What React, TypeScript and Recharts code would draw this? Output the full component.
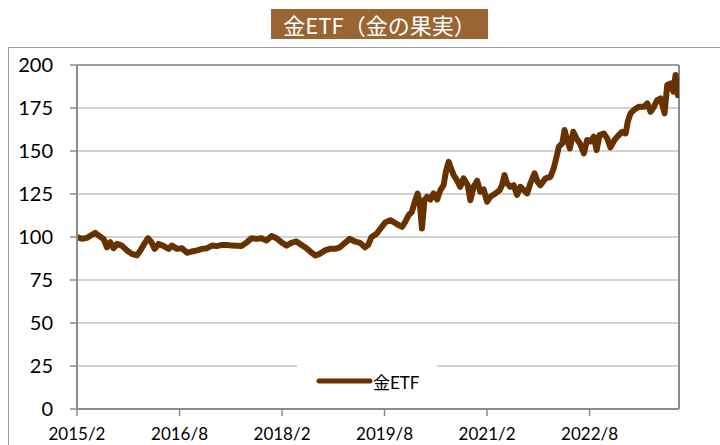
import React from "react";
import { LineChart, Line, XAxis, YAxis, CartesianGrid, ReferenceLine, Legend } from "recharts";

const dates = [
  "2015-02-01","2015-02-27","2015-03-23","2015-04-20","2015-05-07","2015-05-24","2015-06-21","2015-07-09","2015-07-26","2015-08-14",
  "2015-09-02","2015-09-27","2015-10-24","2015-11-20","2015-12-17","2016-01-05","2016-01-22","2016-02-15","2016-03-03","2016-03-20",
  "2016-04-11","2016-05-08","2016-06-04","2016-06-21","2016-07-18","2016-08-14","2016-09-11","2016-10-07","2016-11-04","2016-11-29",
  "2016-12-26","2017-01-22","2017-02-18","2017-03-15","2017-04-12","2017-05-08","2017-06-27","2017-07-23","2017-08-20","2017-09-16",
  "2017-10-13","2017-11-09","2017-12-06","2018-01-02","2018-01-27","2018-02-24","2018-03-20","2018-04-17","2018-05-14","2018-06-10",
  "2018-07-07","2018-07-27","2018-08-20","2018-09-17","2018-10-13","2018-11-10","2018-12-06","2019-01-03","2019-01-28","2019-02-24",
  "2019-03-21","2019-04-18","2019-05-05","2019-05-22","2019-06-19","2019-07-15","2019-08-05","2019-09-01","2019-09-27","2019-10-15",
  "2019-11-03","2019-11-20","2019-12-08","2019-12-25","2020-01-13","2020-01-25","2020-02-06","2020-02-18","2020-03-01","2020-03-15",
  "2020-04-02","2020-04-19","2020-05-08","2020-05-25","2020-06-12","2020-06-26","2020-07-09","2020-07-21","2020-08-05","2020-08-22",
  "2020-09-10","2020-09-27","2020-10-19","2020-11-03","2020-11-20","2020-12-09","2020-12-25","2021-01-13","2021-02-01","2021-02-18",
  "2021-03-15","2021-04-08","2021-04-20","2021-05-03","2021-05-16","2021-06-04","2021-06-21","2021-07-09","2021-07-26","2021-08-14",
  "2021-09-02","2021-09-19","2021-10-11","2021-10-27","2021-11-12","2021-12-09","2022-01-05","2022-01-22","2022-02-07","2022-02-19",
  "2022-03-07","2022-03-19","2022-04-03","2022-04-17","2022-05-05","2022-05-22","2022-06-10","2022-07-01","2022-07-18","2022-08-06",
  "2022-08-23","2022-09-08","2022-09-24","2022-10-16","2022-11-04","2022-11-21","2022-12-12","2023-01-05","2023-01-23","2023-02-11",
  "2023-02-22","2023-03-07","2023-03-24","2023-04-20","2023-05-17","2023-06-05","2023-06-22","2023-07-10","2023-07-27","2023-08-15",
  "2023-09-06","2023-09-20","2023-10-08","2023-10-22","2023-11-04","2023-11-16","2023-11-20"
];

const goldEtf = [
  100,99,99.5,101.3,102.4,100.9,98.9,94,97,93.5,
  96,95,92.2,90.2,89.3,92.2,95.4,99.3,97,93.1,
  96,94.7,93.1,95,93.1,93.5,90.8,91.6,92.2,93.1,
  93.5,95,94.7,95.4,95.4,95,94.7,96.6,99.3,98.9,
  99.3,98,100.5,99.3,97,95,96.6,97.4,95.4,93.5,
  90.8,89.3,90.2,92.2,93.1,93.1,94,96.6,98.9,97.4,
  96.6,94,95.4,99.9,101.9,105.7,108.5,109.8,108.2,106.9,
  105.9,108.8,112.7,114.6,121.4,125.3,120.5,105,121.4,123.4,
  121.8,125.3,121.8,127.3,130.2,138.9,143.7,139.9,136,133.1,
  129.2,134.1,130.2,121.4,129.2,132.7,126.3,127.7,120.5,123.4,
  125.3,127.3,130.2,136,131.2,129.2,130.2,124.4,129.2,127.3,
  125.3,131.2,137,132.1,130.1,134.1,135,139.9,146.6,152.5,
  154.4,162.2,156.4,151.5,161.2,157.3,154.4,148.6,156.4,155.5,
  158.3,150.5,159.3,160.2,157.3,152.1,156.4,159.3,161.2,160.2,
  167,171.9,173.8,175.7,175.7,177.7,172.8,175.7,179.6,180.6,
  171.9,188.4,189.3,184.5,194.2,182.5,186.4
];

const seriesName = "金ETF";
const title = "金ETF（金の果実）";
const tickMonths = [0, 18, 36, 54, 72, 90];
const tickLabels = ["2015/2", "2016/8", "2018/2", "2019/8", "2021/2", "2022/8"];
const yTicks = [0, 25, 50, 75, 100, 125, 150, 175, 200];
const xMax = 105.7;

const monthOffset = (s: string) => {
  const [y, m, d] = s.split("-").map(Number);
  return (y - 2015) * 12 + (m - 2) + (d - 1) / 30;
};

const data = dates.map((d, i) => ({ t: monthOffset(d), v: goldEtf[i] }));

const BROWN = "#663300";
const FONT = 'Lato, "Noto Sans CJK JP", sans-serif';

const LegendContent = () => (
  <div style={{ display: "flex", alignItems: "center", height: "100%", fontFamily: FONT, fontSize: 17, color: "#000" }}>
    <svg width={76} height={12} style={{ display: "block" }}>
      <line x1={22} y1={6} x2={73} y2={6} stroke={BROWN} strokeWidth={5} strokeLinecap="round" />
    </svg>
    <span>{seriesName}</span>
  </div>
);

export default function App() {
  return (
    <div style={{ position: "absolute", left: 0, top: 0, width: 720, height: 445, overflow: "hidden", background: "#fff" }}>
      <div style={{ position: "absolute", left: 8, top: 47, width: 730, height: 420, border: "1px solid #9a9a9a" }} />
      <div
        style={{
          position: "absolute", left: 271, top: 9, width: 217, height: 30, background: "#996633",
          color: "#fff", fontFamily: '"Noto Sans CJK JP", sans-serif', fontSize: 22, lineHeight: "30px",
          textAlign: "center", whiteSpace: "nowrap",
        }}
      >
        {title}
      </div>
      <div style={{ position: "absolute", left: 0, top: 0 }}>
        <LineChart width={720} height={445} data={data} margin={{ top: 65, right: 41, left: 17, bottom: 6 }}>
          <CartesianGrid vertical={false} stroke="#c4c4c4" strokeWidth={1.5} />
          <XAxis
            dataKey="t" type="number" domain={[0, xMax]} ticks={tickMonths} height={30}
            tickFormatter={(v: number) => tickLabels[tickMonths.indexOf(v)]}
            axisLine={{ stroke: "#8c8c8c", strokeWidth: 2 }} tickLine={{ stroke: "#8c8c8c", strokeWidth: 1.5 }}
            tickSize={7} tickMargin={12} interval={0} allowDataOverflow
            tick={{ fill: "#000", fontSize: 17, fontFamily: FONT }}
          />
          <YAxis
            type="number" domain={[0, 200]} ticks={yTicks} width={60} interval={0}
            axisLine={{ stroke: "#8c8c8c", strokeWidth: 2 }} tickLine={{ stroke: "#8c8c8c", strokeWidth: 1.5 }}
            tickSize={7} tickMargin={17}
            tick={{ fill: "#000", fontSize: 20, fontFamily: FONT }}
          />
          <ReferenceLine y={200} stroke="#8c8c8c" strokeWidth={1.5} />
          <ReferenceLine x={xMax} stroke="#8c8c8c" strokeWidth={2} />
          <Legend
            layout="horizontal" verticalAlign="middle" align="center"
            wrapperStyle={{ left: 297, top: 365, width: 140, height: 32, backgroundColor: "#fff" }}
            content={<LegendContent />}
          />
          <Line
            type="linear" dataKey="v" name={seriesName} stroke={BROWN} strokeWidth={6}
            strokeLinecap="round" strokeLinejoin="round" dot={false} isAnimationActive={false}
          />
        </LineChart>
      </div>
    </div>
  );
}
